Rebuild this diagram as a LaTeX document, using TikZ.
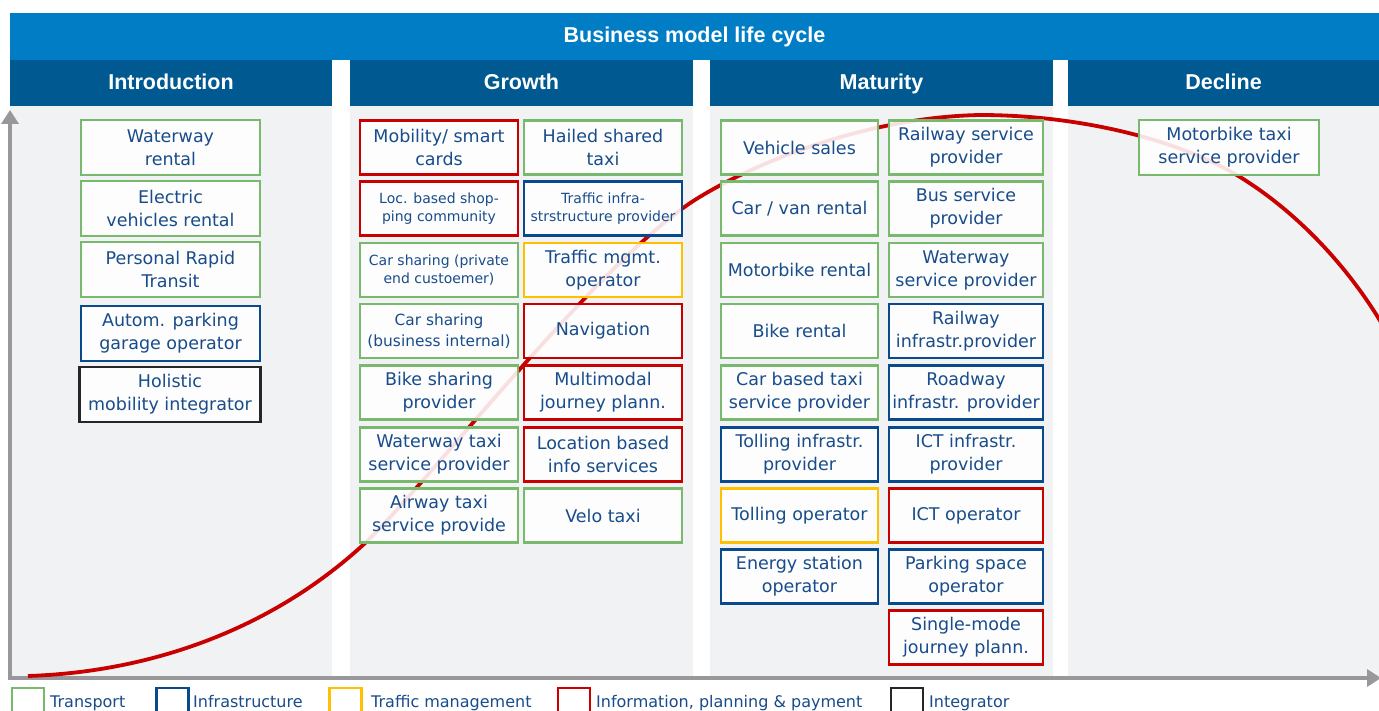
\documentclass[tikz,border=0pt]{standalone}
\usepackage{fontspec}
\setmainfont{DejaVu Sans}
\newfontfamily\hdfont{Liberation Sans}
\usetikzlibrary{arrows.meta}
\definecolor{topbar}{RGB}{0,125,197}
\definecolor{hdblue}{RGB}{0,90,145}
\definecolor{bggrey}{RGB}{241,242,244}
\definecolor{txtc}{RGB}{24,76,138}
\definecolor{cgreen}{RGB}{120,185,110}
\definecolor{cblue}{RGB}{8,74,140}
\definecolor{cyellow}{RGB}{255,192,0}
\definecolor{cred}{RGB}{200,0,0}
\definecolor{cblack}{RGB}{38,38,38}
\definecolor{axisc}{RGB}{152,152,154}
\tikzset{
  bx/.style={draw, line width=2.6pt, fill=white, fill opacity=0.88, text opacity=1,
    align=center, inner sep=0pt, text=txtc, font=\fontsize{17.5}{23}\selectfont},
  trbox/.style={bx, draw=cgreen},
  infbox/.style={bx, draw=cblue},
  tmbox/.style={bx, draw=cyellow},
  ipbox/.style={bx, draw=cred},
  igbox/.style={bx, draw=cblack},
  smalltxt/.style={font=\fontsize{14}{18}\selectfont},
  midtxt/.style={font=\fontsize{15.4}{21}\selectfont},
  colI/.style={minimum width=179pt, minimum height=55pt},
  colD/.style={minimum width=180pt, minimum height=55pt},
  colG/.style={minimum width=158pt, minimum height=54pt},
  colML/.style={minimum width=157pt, minimum height=54pt},
  colMR/.style={minimum width=154pt, minimum height=54pt},
  hdr/.style={fill=hdblue, text=white, inner sep=0pt, minimum height=46pt,
    text height=15.5pt, text depth=2.5pt,
    font=\hdfont\bfseries\fontsize{21.5}{26}\selectfont},
  topb/.style={fill=topbar, text=white, inner sep=0pt, minimum height=47pt,
    text height=15.5pt, text depth=2.5pt,
    font=\hdfont\bfseries\fontsize{21.5}{26}\selectfont},
  bgcol/.style={fill=bggrey, inner sep=0pt, minimum height=572pt},
  axisline/.style={draw=axisc, line width=4.5pt,
    {Triangle[width=17pt,length=14pt]}-{Triangle[width=17pt,length=14pt]}},
  lcurve/.style={draw=cred, line width=3.8pt},
  legsq/.style={draw, line width=2.4pt, minimum width=32pt, minimum height=26pt, inner sep=0pt},
  legtxt/.style={text=txtc, inner sep=0pt, font=\fontsize{16}{19}\selectfont},
}
\begin{document}
\begin{tikzpicture}[x=1pt,y=-1pt]
\useasboundingbox (0,0) rectangle (1379,711);
\fill[white] (0,0) rectangle (1379,711);

% column backgrounds
\node[bgcol, minimum width=322pt] (bgI) at (171,392) {};
\node[bgcol, minimum width=343pt] (bgG) at (521.5,392) {};
\node[bgcol, minimum width=343pt] (bgM) at (881.5,392) {};
\node[bgcol, minimum width=311pt] (bgD) at (1223.5,392) {};

% title and phase headers
\node[topb, minimum width=1369pt] (title) at (694.5,36.5) {Business model life cycle};
\node[hdr, minimum width=322pt] (hI) at (171,83) {Introduction};
\node[hdr, minimum width=343pt] (hG) at (521.5,83) {Growth};
\node[hdr, minimum width=343pt] (hM) at (881.5,83) {Maturity};
\node[hdr, minimum width=311pt] (hD) at (1223.5,83) {Decline};

% axes
\coordinate (org) at (10,678);
\coordinate (ytop) at (10,110);
\coordinate (xend) at (1381,678);
\draw[axisline] (ytop) -- (org) -- (xend);

% life cycle curve
\coordinate (c0) at (28,676);
\coordinate (c1) at (363,545);
\coordinate (c2) at (698,198);
\coordinate (c3) at (980,115);
\coordinate (c4) at (1240,177);
\coordinate (c5) at (1382,324);
\draw[lcurve] (c0) .. controls (150,672) and (270,630) .. (c1)
  .. controls (420,493) and (600,258) .. (c2)
  .. controls (760,160) and (870,117) .. (c3)
  .. controls (1080,115) and (1180,140) .. (c4)
  .. controls (1300,214) and (1350,270) .. (c5);

% Introduction
\node[trbox, colI] (i1) at (170.5,147.5) {Waterway\\rental};
\node[trbox, colI] (i2) at (170.5,208.5) {Electric\\vehicles rental};
\node[trbox, colI] (i3) at (170.5,269.5) {Personal Rapid\\Transit};
\node[infbox, colI] (i4) at (170.5,333.5) {Autom. parking\\garage operator};
\node[igbox, colI, minimum width=181pt] (i5) at (170,394.5) {Holistic\\mobility integrator};

% Growth
\node[ipbox, colG] (g1) at (439,147.5) {Mobility/ smart\\cards};
\node[trbox, colG] (g2) at (603,147.5) {Hailed shared\\taxi};
\node[ipbox, colG, smalltxt] (g3) at (439,208.5) {Loc. based shop-\\ping community};
\node[infbox, colG, smalltxt] (g4) at (603,208.5) {Traffic infra-\\strstructure provider};
\node[trbox, colG, smalltxt] (g5) at (439,270) {Car sharing (private\\end custoemer)};
\node[tmbox, colG] (g6) at (603,270) {Traffic mgmt.\\operator};
\node[trbox, colG, midtxt] (g7) at (439,331) {Car sharing\\(business internal)};
\node[ipbox, colG] (g8) at (603,331) {Navigation};
\node[trbox, colG] (g9) at (439,392.5) {Bike sharing\\provider};
\node[ipbox, colG] (g10) at (603,392.5) {Multimodal\\journey plann.};
\node[trbox, colG] (g11) at (439,454.5) {Waterway taxi\\service provider};
\node[ipbox, colG] (g12) at (603,454.5) {Location based\\info services};
\node[trbox, colG] (g13) at (439,515.5) {Airway taxi\\service provide};
\node[trbox, colG] (g14) at (603,515.5) {Velo taxi};

% Maturity
\node[trbox, colML] (m1) at (799.5,147.5) {Vehicle sales};
\node[trbox, colMR] (m2) at (966,147.5) {Railway service\\provider};
\node[trbox, colML] (m3) at (799.5,208.5) {Car / van rental};
\node[trbox, colMR] (m4) at (966,208.5) {Bus service\\provider};
\node[trbox, colML] (m5) at (799.5,270) {Motorbike rental};
\node[trbox, colMR] (m6) at (966,270) {Waterway\\service provider};
\node[trbox, colML] (m7) at (799.5,331) {Bike rental};
\node[infbox, colMR] (m8) at (966,331) {Railway\\infrastr.provider};
\node[trbox, colML] (m9) at (799.5,392.5) {Car based taxi\\service provider};
\node[infbox, colMR] (m10) at (966,392.5) {Roadway\\infrastr. provider};
\node[infbox, colML] (m11) at (799.5,454.5) {Tolling infrastr.\\provider};
\node[infbox, colMR] (m12) at (966,454.5) {ICT infrastr.\\provider};
\node[tmbox, colML] (m13) at (799.5,515.5) {Tolling operator};
\node[ipbox, colMR] (m14) at (966,515.5) {ICT operator};
\node[infbox, colML] (m15) at (799.5,576.5) {Energy station\\operator};
\node[infbox, colMR] (m16) at (966,576.5) {Parking space\\operator};
\node[ipbox, colMR] (m17) at (966,637.5) {Single-mode\\journey plann.};

% Decline
\node[trbox, colD] (d1) at (1229,147.5) {Motorbike taxi\\service provider};

% legend
\node[legsq, draw=cgreen] (lq1) at (28,701) {};
\node[legtxt, anchor=base west] (lt1) at (50,707) {Transport};
\node[legsq, draw=cblue] (lq2) at (172.5,701) {};
\node[legtxt, anchor=base west] (lt2) at (193,707) {Infrastructure};
\node[legsq, draw=cyellow] (lq3) at (345.5,701) {};
\node[legtxt, anchor=base west] (lt3) at (371,707) {Traffic management};
\node[legsq, draw=cred] (lq4) at (574,701) {};
\node[legtxt, anchor=base west] (lt4) at (596,707) {Information, planning \& payment};
\node[legsq, draw=cblack] (lq5) at (907,701) {};
\node[legtxt, anchor=base west] (lt5) at (929,707) {Integrator};
\end{tikzpicture}
\end{document}
